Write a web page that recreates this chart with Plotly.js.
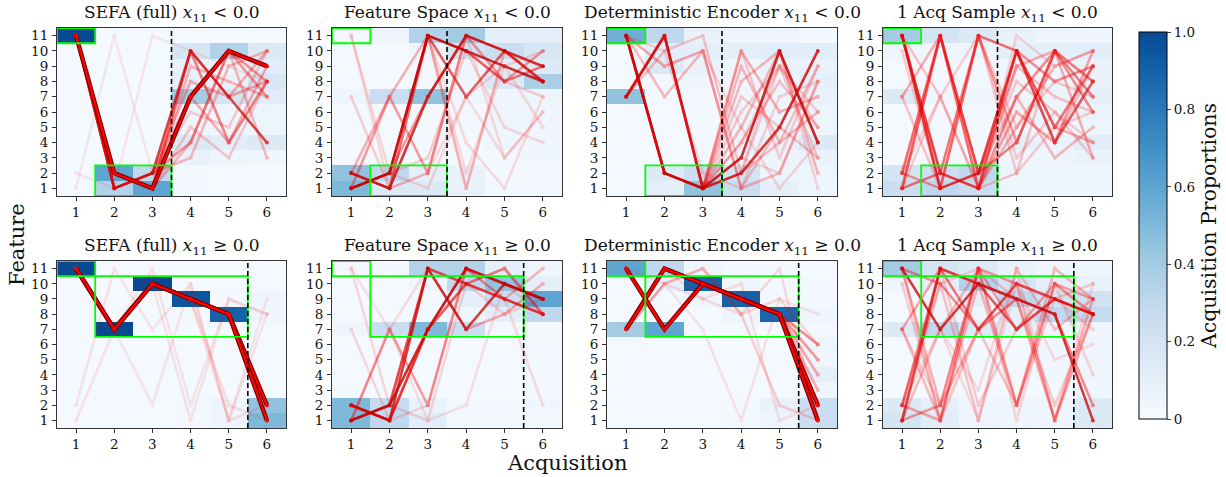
<!DOCTYPE html>
<html><head><meta charset="utf-8">
<script src="https://cdn.plot.ly/plotly-3.0.1.min.js"></script>
<style>body{margin:0;background:#fff}#chart{width:1226px;height:477px}</style>
</head><body><div id="chart"></div>
<script>
// ---------- DATA ----------
const acquisitions = [1, 2, 3, 4, 5, 6];
const features = [1, 2, 3, 4, 5, 6, 7, 8, 9, 10, 11];
const panelTitles = [
  "SEFA (full) <i>x</i><sub>11</sub> &lt; 0.0",
  "Feature Space <i>x</i><sub>11</sub> &lt; 0.0",
  "Deterministic Encoder <i>x</i><sub>11</sub> &lt; 0.0",
  "1 Acq Sample <i>x</i><sub>11</sub> &lt; 0.0",
  "SEFA (full) <i>x</i><sub>11</sub> ≥ 0.0",
  "Feature Space <i>x</i><sub>11</sub> ≥ 0.0",
  "Deterministic Encoder <i>x</i><sub>11</sub> ≥ 0.0",
  "1 Acq Sample <i>x</i><sub>11</sub> ≥ 0.0"
];
const colorbarTicks = [0, 0.2, 0.4, 0.6, 0.8, 1.0];
const colorbarTickText = ["0", "0.2", "0.4", "0.6", "0.8", "1.0"];
const dashedSplit = [3.5, 3.5, 3.5, 3.5, 5.5, 5.5, 5.5, 5.5];

// heatmaps: rows = feature 1..11, columns = acquisition 1..6
const heatSefaNeg = [
  [0.02, 0.35, 0.60, 0.03, 0.02, 0.02],
  [0.02, 0.60, 0.30, 0.03, 0.02, 0.02],
  [0.02, 0.02, 0.02, 0.08, 0.05, 0.04],
  [0.02, 0.02, 0.02, 0.15, 0.12, 0.15],
  [0.02, 0.02, 0.02, 0.05, 0.05, 0.06],
  [0.02, 0.02, 0.02, 0.05, 0.05, 0.06],
  [0.02, 0.02, 0.02, 0.40, 0.20, 0.13],
  [0.02, 0.02, 0.02, 0.10, 0.08, 0.18],
  [0.02, 0.02, 0.02, 0.08, 0.06, 0.12],
  [0.02, 0.02, 0.02, 0.18, 0.35, 0.15],
  [1.00, 0.02, 0.02, 0.02, 0.02, 0.02]
];
const heatFeatNeg = [
  [0.50, 0.15, 0.15, 0.08, 0.03, 0.03],
  [0.45, 0.30, 0.10, 0.08, 0.03, 0.03],
  [0.02, 0.02, 0.03, 0.03, 0.03, 0.04],
  [0.02, 0.02, 0.03, 0.03, 0.05, 0.04],
  [0.02, 0.02, 0.03, 0.03, 0.05, 0.05],
  [0.02, 0.02, 0.03, 0.03, 0.05, 0.05],
  [0.05, 0.25, 0.45, 0.05, 0.05, 0.06],
  [0.02, 0.02, 0.03, 0.05, 0.15, 0.38],
  [0.02, 0.02, 0.03, 0.05, 0.12, 0.15],
  [0.02, 0.02, 0.05, 0.20, 0.25, 0.18],
  [0.03, 0.05, 0.35, 0.40, 0.10, 0.10]
];
const heatDetNeg = [
  [0.02, 0.10, 0.45, 0.25, 0.10, 0.05],
  [0.02, 0.15, 0.25, 0.20, 0.06, 0.06],
  [0.02, 0.02, 0.03, 0.05, 0.06, 0.08],
  [0.02, 0.02, 0.03, 0.06, 0.08, 0.15],
  [0.02, 0.02, 0.03, 0.06, 0.06, 0.06],
  [0.02, 0.02, 0.03, 0.05, 0.06, 0.06],
  [0.45, 0.03, 0.03, 0.05, 0.06, 0.08],
  [0.02, 0.03, 0.05, 0.05, 0.06, 0.10],
  [0.02, 0.15, 0.08, 0.05, 0.08, 0.08],
  [0.02, 0.12, 0.10, 0.10, 0.12, 0.12],
  [0.55, 0.30, 0.08, 0.05, 0.05, 0.03]
];
const heatOneNeg = [
  [0.25, 0.30, 0.25, 0.06, 0.05, 0.04],
  [0.20, 0.25, 0.30, 0.06, 0.05, 0.05],
  [0.02, 0.03, 0.03, 0.05, 0.06, 0.08],
  [0.02, 0.03, 0.03, 0.10, 0.07, 0.12],
  [0.02, 0.03, 0.03, 0.05, 0.06, 0.06],
  [0.02, 0.03, 0.03, 0.05, 0.06, 0.07],
  [0.15, 0.05, 0.05, 0.06, 0.06, 0.10],
  [0.02, 0.03, 0.03, 0.05, 0.06, 0.08],
  [0.02, 0.03, 0.03, 0.05, 0.06, 0.08],
  [0.05, 0.05, 0.05, 0.10, 0.10, 0.12],
  [0.40, 0.20, 0.15, 0.08, 0.05, 0.04]
];
const heatSefaPos = [
  [0.02, 0.02, 0.02, 0.03, 0.05, 0.50],
  [0.02, 0.02, 0.02, 0.03, 0.05, 0.45],
  [0.02, 0.02, 0.02, 0.02, 0.02, 0.02],
  [0.02, 0.02, 0.02, 0.02, 0.02, 0.02],
  [0.02, 0.02, 0.02, 0.02, 0.02, 0.02],
  [0.02, 0.02, 0.02, 0.02, 0.02, 0.02],
  [0.02, 1.00, 0.02, 0.02, 0.02, 0.02],
  [0.02, 0.02, 0.02, 0.03, 0.90, 0.05],
  [0.02, 0.02, 0.02, 0.95, 0.03, 0.05],
  [0.02, 0.02, 1.00, 0.02, 0.02, 0.02],
  [1.00, 0.02, 0.02, 0.02, 0.02, 0.02]
];
const heatFeatPos = [
  [0.50, 0.30, 0.12, 0.03, 0.03, 0.03],
  [0.50, 0.28, 0.08, 0.03, 0.03, 0.04],
  [0.02, 0.02, 0.02, 0.02, 0.02, 0.03],
  [0.02, 0.02, 0.02, 0.02, 0.02, 0.03],
  [0.02, 0.02, 0.02, 0.02, 0.02, 0.03],
  [0.02, 0.02, 0.02, 0.02, 0.02, 0.03],
  [0.05, 0.25, 0.50, 0.25, 0.03, 0.03],
  [0.02, 0.02, 0.03, 0.05, 0.10, 0.30],
  [0.02, 0.02, 0.03, 0.10, 0.25, 0.60],
  [0.02, 0.02, 0.05, 0.30, 0.45, 0.10],
  [0.03, 0.03, 0.35, 0.35, 0.10, 0.05]
];
const heatDetPos = [
  [0.02, 0.02, 0.02, 0.03, 0.05, 0.25],
  [0.02, 0.02, 0.02, 0.03, 0.08, 0.25],
  [0.02, 0.02, 0.02, 0.02, 0.02, 0.05],
  [0.02, 0.02, 0.02, 0.02, 0.02, 0.10],
  [0.02, 0.02, 0.02, 0.02, 0.02, 0.05],
  [0.02, 0.02, 0.02, 0.02, 0.02, 0.06],
  [0.40, 0.60, 0.02, 0.02, 0.02, 0.03],
  [0.02, 0.02, 0.02, 0.05, 0.88, 0.05],
  [0.02, 0.02, 0.05, 0.90, 0.03, 0.03],
  [0.02, 0.08, 0.90, 0.05, 0.03, 0.03],
  [0.60, 0.30, 0.05, 0.03, 0.03, 0.02]
];
const heatOnePos = [
  [0.20, 0.12, 0.05, 0.05, 0.05, 0.15],
  [0.15, 0.10, 0.05, 0.05, 0.05, 0.15],
  [0.02, 0.03, 0.03, 0.03, 0.03, 0.04],
  [0.02, 0.03, 0.03, 0.03, 0.04, 0.05],
  [0.02, 0.03, 0.03, 0.03, 0.04, 0.05],
  [0.02, 0.03, 0.03, 0.03, 0.04, 0.05],
  [0.15, 0.30, 0.15, 0.08, 0.05, 0.05],
  [0.02, 0.05, 0.05, 0.10, 0.30, 0.28],
  [0.02, 0.05, 0.10, 0.30, 0.20, 0.22],
  [0.05, 0.10, 0.35, 0.20, 0.10, 0.08],
  [0.40, 0.20, 0.15, 0.08, 0.05, 0.04]
];

// trajectories: feature acquired at steps 1..6, with relative frequency
const pathsSefaNeg = [
  [11, 2, 1, 7, 10, 9], [11, 1, 2, 10, 7, 4], [11, 2, 1, 10, 4, 8], [11, 1, 2, 4, 10, 8],
  [11, 2, 1, 7, 10, 7], [11, 1, 2, 8, 7, 10], [11, 2, 1, 4, 10, 3], [11, 1, 2, 3, 9, 10],
  [11, 2, 1, 9, 8, 7], [11, 1, 2, 7, 4, 9], [11, 2, 1, 5, 3, 8], [11, 1, 2, 6, 5, 10],
  [11, 2, 1, 10, 7, 8], [1, 11, 2, 10, 7, 8], [2, 1, 11, 10, 9, 8]
];
const freqSefaNeg = [0.95, 0.8, 0.55, 0.45, 0.45, 0.35, 0.3, 0.3, 0.3, 0.35, 0.22, 0.2, 0.3, 0.05, 0.05];

const pathsFeatNeg = [
  [1, 2, 11, 10, 9, 8], [2, 1, 7, 11, 10, 9], [1, 2, 11, 7, 10, 8], [2, 1, 11, 10, 8, 9],
  [1, 7, 2, 11, 10, 8], [1, 2, 7, 11, 8, 10], [2, 7, 11, 1, 10, 8], [11, 2, 1, 7, 9, 10],
  [7, 1, 2, 11, 10, 9], [11, 1, 2, 7, 3, 6], [1, 2, 11, 10, 5, 4], [2, 1, 7, 11, 3, 6],
  [1, 2, 3, 10, 8, 7], [2, 1, 11, 2, 9, 5], [1, 2, 11, 4, 1, 7]
];
const freqFeatNeg = [0.9, 0.85, 0.7, 0.6, 0.45, 0.45, 0.35, 0.15, 0.2, 0.12, 0.15, 0.12, 0.2, 0.12, 0.12];

const pathsDetNeg = [
  [11, 2, 1, 3, 10, 4], [7, 11, 1, 2, 5, 10], [11, 7, 10, 1, 2, 8], [11, 9, 10, 1, 5, 3],
  [7, 10, 11, 2, 4, 9], [11, 2, 1, 10, 6, 7], [7, 11, 1, 5, 10, 2], [11, 2, 1, 9, 4, 6],
  [7, 11, 1, 4, 8, 5], [11, 2, 1, 8, 10, 4], [11, 2, 1, 6, 9, 3], [7, 11, 1, 10, 3, 9],
  [11, 10, 2, 1, 7, 8], [11, 2, 1, 7, 5, 10], [7, 11, 1, 2, 9, 5], [11, 2, 1, 4, 9, 6],
  [7, 11, 1, 3, 2, 8], [11, 9, 10, 5, 1, 4], [11, 2, 1, 2, 10, 1]
];
const freqDetNeg = [0.9, 0.85, 0.3, 0.25, 0.25, 0.35, 0.3, 0.3, 0.25, 0.3, 0.2, 0.2, 0.15, 0.2, 0.2, 0.2, 0.15, 0.15, 0.15];

const pathsOneNeg = [
  [11, 1, 2, 10, 4, 8], [11, 2, 1, 10, 5, 9], [1, 11, 2, 4, 10, 7], [2, 11, 1, 7, 10, 6],
  [1, 2, 11, 10, 8, 9], [2, 1, 11, 4, 10, 8], [11, 2, 1, 6, 4, 10], [7, 11, 2, 10, 5, 4],
  [1, 11, 2, 9, 10, 3], [11, 1, 2, 7, 3, 5], [2, 11, 1, 5, 9, 10], [10, 1, 11, 2, 5, 6],
  [7, 1, 11, 10, 4, 9], [11, 7, 1, 2, 10, 8], [1, 7, 11, 3, 6, 4], [2, 7, 1, 11, 9, 10],
  [11, 1, 2, 8, 6, 3], [1, 2, 11, 5, 8, 7], [11, 2, 1, 9, 7, 6]
];
const freqOneNeg = [0.7, 0.6, 0.55, 0.5, 0.5, 0.45, 0.4, 0.35, 0.35, 0.3, 0.3, 0.2, 0.25, 0.25, 0.2, 0.15, 0.2, 0.2, 0.25];

const pathsSefaPos = [
  [11, 7, 10, 9, 8, 1], [11, 7, 10, 9, 8, 2], [2, 11, 7, 10, 1, 8], [1, 7, 11, 2, 9, 8],
  [11, 7, 10, 1, 9, 8], [11, 7, 10, 9, 2, 1], [11, 7, 10, 9, 1, 2], [11, 7, 2, 10, 1, 9]
];
const freqSefaPos = [1.0, 0.95, 0.07, 0.07, 0.08, 0.1, 0.1, 0.06];

const pathsFeatPos = [
  [1, 2, 7, 11, 10, 9], [2, 1, 11, 7, 10, 9], [1, 2, 11, 10, 9, 8], [2, 1, 7, 10, 11, 8],
  [1, 7, 2, 11, 10, 9], [2, 1, 7, 11, 9, 8], [1, 2, 11, 7, 8, 10], [2, 1, 7, 10, 9, 11],
  [7, 1, 2, 11, 10, 8], [11, 2, 1, 10, 8, 9], [1, 7, 11, 10, 9, 2], [11, 7, 1, 2, 10, 9]
];
const freqFeatPos = [0.9, 0.85, 0.7, 0.6, 0.45, 0.5, 0.35, 0.3, 0.15, 0.15, 0.12, 0.1];

const pathsDetPos = [
  [11, 7, 10, 9, 8, 1], [7, 11, 10, 9, 8, 2], [11, 7, 10, 9, 8, 6], [7, 11, 10, 9, 8, 5],
  [11, 7, 10, 9, 8, 4], [7, 11, 10, 9, 8, 3], [11, 7, 10, 9, 8, 2], [7, 10, 11, 8, 2, 1],
  [7, 10, 11, 8, 9, 6], [7, 10, 9, 8, 11, 1], [11, 10, 7, 1, 9, 8], [7, 11, 9, 10, 1, 2]
];
const freqDetPos = [1.0, 0.95, 0.5, 0.45, 0.4, 0.35, 0.5, 0.2, 0.15, 0.12, 0.08, 0.1];

const pathsOnePos = [
  [11, 7, 10, 9, 8, 1], [1, 11, 10, 7, 9, 8], [2, 11, 7, 10, 9, 8], [11, 10, 7, 9, 8, 2],
  [7, 11, 10, 9, 1, 8], [1, 2, 11, 10, 9, 8], [2, 1, 11, 7, 10, 9], [11, 2, 7, 10, 1, 9],
  [1, 7, 11, 2, 10, 8], [7, 1, 10, 2, 11, 9], [11, 1, 7, 2, 10, 8], [2, 10, 1, 11, 7, 9],
  [10, 1, 11, 9, 2, 8], [1, 11, 2, 7, 9, 10], [7, 2, 11, 1, 10, 4], [11, 7, 1, 10, 5, 6],
  [2, 7, 3, 11, 1, 10], [1, 10, 11, 2, 9, 7]
];
const freqOnePos = [0.85, 0.7, 0.6, 0.5, 0.4, 0.45, 0.4, 0.35, 0.3, 0.3, 0.25, 0.25, 0.2, 0.2, 0.15, 0.12, 0.12, 0.15];

// ---------- BUILD ----------
const heats = [heatSefaNeg, heatFeatNeg, heatDetNeg, heatOneNeg, heatSefaPos, heatFeatPos, heatDetPos, heatOnePos];
const paths = [pathsSefaNeg, pathsFeatNeg, pathsDetNeg, pathsOneNeg, pathsSefaPos, pathsFeatPos, pathsDetPos, pathsOnePos];
const freqs = [freqSefaNeg, freqFeatNeg, freqDetNeg, freqOneNeg, freqSefaPos, freqFeatPos, freqDetPos, freqOnePos];

const W = 1226, H = 477;
const colPx = [[57, 286], [332, 562], [607, 837], [883, 1112]];
const rowPx = [[28, 196], [261, 428]];

const blues = [
  [0.0, '#f7fbff'], [0.1389, '#deebf7'], [0.2778, '#c6dbef'], [0.4167, '#9ecae1'],
  [0.5556, '#6baed6'], [0.6944, '#4292c6'], [0.8333, '#2171b5'], [0.9722, '#08519c'],
  [1.0, 'rgb(8,74,146)']
];
const FONT = 'DejaVu Serif';
const traces = [], shapes = [], annotations = [];
const layout = {
  width: W, height: H, margin: {l: 0, r: 0, t: 0, b: 0},
  paper_bgcolor: '#fff', plot_bgcolor: '#fff', showlegend: false,
  font: {family: FONT, color: '#000', size: 13}
};

for (let p = 0; p < 8; p++) {
  const r = Math.floor(p / 4), c = p % 4;
  const sfx = p === 0 ? '' : String(p + 1);
  const xa = 'x' + sfx, ya = 'y' + sfx;
  const [x0, x1] = colPx[c], [y0, y1] = rowPx[r];
  const axCommon = {
    showgrid: false, zeroline: false, showline: true, mirror: true,
    linecolor: '#333', linewidth: 1, ticks: 'outside', ticklen: 4, tickcolor: '#333',
    tickfont: {family: FONT, size: 13.5, color: '#111'}, fixedrange: true
  };
  layout['xaxis' + sfx] = Object.assign({}, axCommon, {
    domain: [x0 / W, x1 / W], anchor: ya, range: [0.5, 6.5],
    tickmode: 'array', tickvals: acquisitions, ticktext: acquisitions.map(String)
  });
  layout['yaxis' + sfx] = Object.assign({}, axCommon, {
    domain: [1 - y1 / H, 1 - y0 / H], anchor: xa, range: [0.5, 11.5],
    tickmode: 'array', tickvals: features, ticktext: features.map(String), ticklabelstandoff: 1
  });
  traces.push({
    type: 'heatmap', x: acquisitions, y: features, z: heats[p], xaxis: xa, yaxis: ya,
    zmin: 0, zmax: 1, colorscale: blues, showscale: p === 0, hoverinfo: 'skip',
    colorbar: p === 0 ? {
      x: 1139 / W, xanchor: 'left', xpad: 0, ypad: 0,
      y: 1 - 225.5 / H, yanchor: 'middle',
      len: 387, lenmode: 'pixels', thickness: 28, thicknessmode: 'pixels',
      outlinecolor: '#000', outlinewidth: 1, ticks: 'outside', ticklen: 4,
      tickvals: colorbarTicks, ticktext: colorbarTickText,
      tickfont: {family: FONT, size: 13.5, color: '#111'},
      title: {text: 'Acquisition Proportions', side: 'right', font: {family: FONT, size: 20.5, color: '#111'}}
    } : undefined
  });
  // trajectories, faint first
  const order = freqs[p].map((f, i) => i).sort((a, b) => freqs[p][a] - freqs[p][b]);
  for (const i of order) {
    const w = freqs[p][i];
    const red = Math.round(255 - 70 * Math.max(0, w - 0.4) / 0.6);
    if (w >= 0.95) {
      traces.push({
        type: 'scatter', mode: 'lines', x: acquisitions, y: paths[p][i], xaxis: xa, yaxis: ya,
        line: {color: '#7a0000', width: 4.5}, opacity: 1, hoverinfo: 'skip'
      });
      traces.push({
        type: 'scatter', mode: 'lines+markers', x: acquisitions, y: paths[p][i], xaxis: xa, yaxis: ya,
        line: {color: '#ff0000', width: 2.2}, marker: {size: 4, color: '#ff0000'}, opacity: 1, hoverinfo: 'skip'
      });
    } else {
      traces.push({
        type: 'scatter', mode: 'lines+markers', x: acquisitions, y: paths[p][i], xaxis: xa, yaxis: ya,
        line: {color: `rgb(${red},0,0)`, width: 2.6}, marker: {size: 4, color: `rgb(${red},0,0)`},
        opacity: Math.min(1, 0.05 + 0.85 * Math.pow(w, 1.2)), hoverinfo: 'skip'
      });
    }
  }
  // green boxes
  const green = {color: '#00ff00', width: 1.8};
  shapes.push({type: 'rect', xref: xa, yref: ya, x0: 0.5, x1: 1.5, y0: 10.5, y1: 11.5, line: green, layer: 'above'});
  if (r === 0) {
    shapes.push({type: 'rect', xref: xa, yref: ya, x0: 1.5, x1: 3.5, y0: 0.5, y1: 2.5, line: green, layer: 'above'});
  } else {
    shapes.push({type: 'rect', xref: xa, yref: ya, x0: 1.5, x1: 5.5, y0: 6.5, y1: 10.5, line: green, layer: 'above'});
  }
  shapes.push({type: 'line', xref: xa, yref: ya, x0: dashedSplit[p], x1: dashedSplit[p], y0: 0.5, y1: 11.5,
    line: {color: '#000', width: 1.6, dash: '5px,3px'}, layer: 'above'});
  annotations.push({
    text: panelTitles[p], xref: 'paper', yref: 'paper', x: ((x0 + x1) / 2) / W, y: 1 - y0 / H,
    xanchor: 'center', yanchor: 'bottom', yshift: 1, showarrow: false,
    font: {family: FONT, size: 17, color: '#111'}
  });
}
annotations.push({text: 'Feature', xref: 'paper', yref: 'paper', x: 17 / W, y: 1 - 245 / H,
  textangle: -90, showarrow: false, xanchor: 'center', yanchor: 'middle', font: {family: FONT, size: 21, color: '#111'}});
annotations.push({text: 'Acquisition', xref: 'paper', yref: 'paper', x: 567 / W, y: 1 - 463 / H,
  showarrow: false, xanchor: 'center', yanchor: 'middle', font: {family: FONT, size: 21, color: '#111'}});
layout.shapes = shapes;
layout.annotations = annotations;
Plotly.newPlot('chart', traces, layout, {staticPlot: true, displayModeBar: false});
</script></body></html>
